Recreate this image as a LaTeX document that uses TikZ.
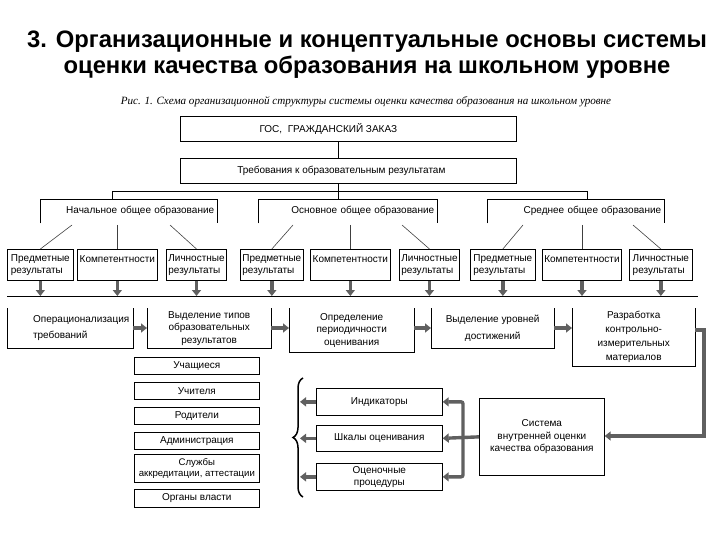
\documentclass[tikz,border=0pt]{standalone}
\usepackage{fontspec}
\setmainfont{Liberation Sans}
\newfontfamily\capserif{Liberation Serif}
\usetikzlibrary{arrows.meta,decorations.pathreplacing,calc}
\begin{document}
\begin{tikzpicture}[x=1pt,y=-1pt,
  every node/.style={font=\fontsize{10}{12.5}\selectfont},
  box/.style={draw, line width=0.7pt, inner sep=1.5pt, align=center, anchor=north west},
  obox/.style={inner sep=1.5pt, align=center, anchor=north west},
  lbox/.style={draw, line width=0.7pt, inner sep=2pt, align=left, anchor=north west, font=\fontsize{10}{12}\selectfont},
  brk/.style={inner xsep=3pt, inner ysep=0pt, anchor=north west, align=right},
  thin/.style={line width=0.7pt},
  slant/.style={line width=0.6pt, draw=black!75},
  garrow/.style={draw=gray!75!black, line width=3.4pt, -{Triangle[length=6pt,width=9pt]}},
  gline/.style={draw=gray!75!black, line width=3.4pt}
]
\useasboundingbox (0,0) rectangle (720,540);

% title and caption
\node[align=center, font=\fontsize{23.8}{26}\bfseries\selectfont] (title) at (367,55)
  {3. Организационные и концептуальные основы системы\\оценки качества образования на школьном уровне};
\node[font=\fontsize{11.1}{12}\capserif\itshape\selectfont] (cap) at (366,102)
  {Рис. 1. Схема организационной структуры системы оценки качества образования на школьном уровне};

% top boxes
\node[box, minimum width=336, minimum height=25] (gos) at (180,116) {ГОС,\ \ ГРАЖДАНСКИЙ ЗАКАЗ\hspace*{40pt}};
\node[box, minimum width=336, minimum height=25] (req) at (180,158) {Требования к образовательным результатам\hspace*{14pt}};

\coordinate (mx) at (338,191);
\coordinate (t1) at (112,191);
\coordinate (t3) at (587,191);

% stage brackets
\node[brk, minimum width=177, minimum height=24, text width=171] (st1) at (40,199) {Начальное общее образование};
\node[brk, minimum width=179, minimum height=24, text width=173] (st2) at (258,199) {Основное общее образование};
\node[brk, minimum width=177, minimum height=24, text width=171] (st3) at (487,199) {Среднее общее образование};
\foreach \s in {st1,st2,st3}
  \draw[thin] (\s.south west) -- (\s.north west) -- (\s.north east) -- (\s.south east);

\draw[thin] (gos.south -| mx) -- (req.north -| mx);
\draw[thin] (req.south -| mx) -- (mx |- st2.north);
\draw[thin] (t1) -- (t3);
\draw[thin] (t1) -- (t1 |- st1.north);
\draw[thin] (t3) -- (t3 |- st3.north);

% result boxes
\node[lbox, minimum width=66, minimum height=31] (a1) at (7,249) {Предметные\\результаты};
\node[lbox, minimum width=80, minimum height=31] (a2) at (77,249) {Компетентности\\\mbox{}};
\node[lbox, minimum width=57, minimum height=31] (a3) at (166,249) {Личностные\\результаты};
\node[lbox, minimum width=63, minimum height=31] (b1) at (240,249) {Предметные\\результаты};
\node[lbox, minimum width=80, minimum height=31] (b2) at (310,249) {Компетентности\\\mbox{}};
\node[lbox, minimum width=58, minimum height=31] (b3) at (399,249) {Личностные\\результаты};
\node[lbox, minimum width=65, minimum height=31] (c1) at (470,249) {Предметные\\результаты};
\node[lbox, minimum width=79, minimum height=31] (c2) at (542,249) {Компетентности\\\mbox{}};
\node[lbox, minimum width=63, minimum height=31] (c3) at (629,249) {Личностные\\результаты};

\coordinate (a1t) at (72,225);
\coordinate (a2t) at (115,225);
\coordinate (a3t) at (170,225);
\coordinate (b1t) at (293,225);
\coordinate (b2t) at (348,225);
\coordinate (b3t) at (402,225);
\coordinate (c1t) at (523,225);
\coordinate (c2t) at (579,225);
\coordinate (c3t) at (633,225);
\draw[slant] (a1t) -- (a1.north);
\draw[slant] (a2.north |- a2t) -- (a2.north);
\draw[slant] (a3t) -- (a3.north);
\draw[slant] (b1t) -- (b1.north);
\draw[slant] (b2.north |- b2t) -- (b2.north);
\draw[slant] (b3t) -- (b3.north);
\draw[slant] (c1t) -- (c1.north);
\draw[slant] (c2.north |- c2t) -- (c2.north);
\draw[slant] (c3t) -- (c3.north);

% bus line and down arrows
\coordinate (busL) at (7,296);
\coordinate (busR) at (698,296);
\draw[thin] (busL) -- (busR);
\foreach \b in {a1,a2,a3,b1,b2,b3,c1,c2,c3}
  \draw[garrow] (\b.south) -- (\b.south |- busL);

% process row (open-top boxes)
\node[obox, minimum width=126, minimum height=40] (d1) at (7,308) {\hspace*{22pt}Операционализация\\[4pt]требований\hspace*{20pt}};
\node[obox, minimum width=124, minimum height=40] (d2) at (147,308) {Выделение типов\\образовательных\\результатов};
\node[obox, minimum width=125, minimum height=44] (d3) at (289,308) {Определение\\периодичности\\оценивания};
\node[obox, minimum width=123, minimum height=40] (d4) at (431,308) {Выделение уровней\\[4pt]достижений};
\node[obox, minimum width=123, minimum height=58, font=\fontsize{10}{14}\selectfont] (d5) at (572,308) {Разработка\\контрольно-\\измерительных\\материалов};
\foreach \d in {d1,d2,d3,d4,d5}
  \draw[thin] (\d.north west) -- (\d.south west) -- (\d.south east) -- (\d.north east);

\coordinate (pr) at (0,328);
\draw[garrow] (d1.east |- pr) -- (d2.west |- pr);
\draw[garrow] (d2.east |- pr) -- (d3.west |- pr);
\draw[garrow] (d3.east |- pr) -- (d4.west |- pr);
\draw[garrow] (d4.east |- pr) -- (d5.west |- pr);

% participants list
\node[box, minimum width=125, minimum height=17] (p1) at (134,357) {Учащиеся};
\node[box, minimum width=125, minimum height=17] (p2) at (134,382) {Учителя};
\node[box, minimum width=125, minimum height=17] (p3) at (134,407) {Родители};
\node[box, minimum width=125, minimum height=17] (p4) at (134,432) {Администрация};
\node[box, minimum width=125, minimum height=28, inner sep=0.5pt, font=\fontsize{9.6}{11.5}\selectfont] (p5) at (134,454) {Службы\\аккредитации, аттестации};
\node[box, minimum width=125, minimum height=18] (p6) at (134,489) {Органы власти};

% instruments
\node[box, minimum width=126, minimum height=27] (ind) at (316,388) {Индикаторы};
\node[box, minimum width=126, minimum height=26] (shk) at (316,425) {Шкалы оценивания};
\node[box, minimum width=126, minimum height=27] (oc) at (316,463) {Оценочные\\процедуры};
\node[box, minimum width=125, minimum height=77] (sys) at (479,398) {Система\\внутренней оценки\\качества образования};

% brace
\coordinate (brT) at (303,378);
\coordinate (brB) at (303,497);
\draw[line width=1.5pt, decorate, decoration={brace, amplitude=10pt}] (brB) -- (brT);
\coordinate (brx) at (300,0);
\draw[garrow] (ind.west) -- (ind.west -| brx);
\draw[garrow] (shk.west) -- (shk.west -| brx);
\draw[garrow] (oc.west) -- (oc.west -| brx);

% system to instruments
\coordinate (vx) at (463,0);
\draw[gline, {Triangle[length=6pt,width=9pt]}-{Triangle[length=6pt,width=9pt]}, rounded corners=2pt]
  (ind.east) -- (ind.east -| vx) -- (oc.east -| vx) -- (oc.east);
\draw[garrow] (sys.west) -- (shk.east);

% from KIM development to system
\coordinate (k1) at (704,330);
\coordinate (k2) at (704,436);
\draw[garrow] (d5.east |- k1) -- (k1) -- (k2) -- (sys.east |- k2);
\end{tikzpicture}
\end{document}
